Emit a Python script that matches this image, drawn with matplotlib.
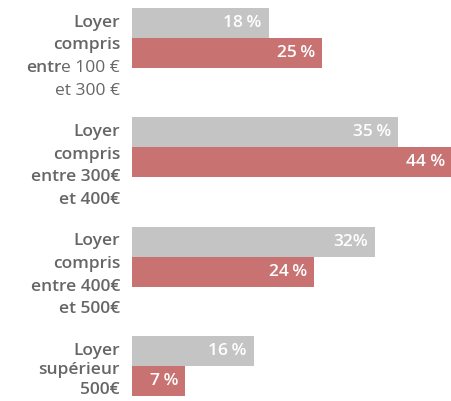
import matplotlib.pyplot as plt
from matplotlib.transforms import blended_transform_factory
import numpy as np

# data
label_lines = [
    ["Loyer", "compris", "entre 100 €", "et 300 €"],
    ["Loyer", "compris", "entre 300€", "et 400€"],
    ["Loyer", "compris", "entre 400€", "et 500€"],
    ["Loyer", "supérieur", "500€"],
]
grey_values = [18, 35, 32, 16]
red_values = [25, 44, 24, 7]
grey_labels = ["18\u2009%", "35\u2009%", "32%", "16\u2009%"]
red_labels = ["25\u2009%", "44 %", "24\u2009%", "7\u2009%"]

grey_col = "#c4c4c4"
red_col = "#c87272"
txt_col = "#666666"
FONT = "Open Sans"
FS = 12.5

W, H = 452, 401
fig = plt.figure(figsize=(W / 100, H / 100), dpi=100)
ax = fig.add_axes([132 / W, 0, 1 - 132 / W, 1])

px_per_unit = 109.3  # vertical pixels per group
h = 30 / px_per_unit
y = np.arange(len(grey_values))
ax.barh(y - h / 2, grey_values, height=h, color=grey_col)
ax.barh(y + h / 2, red_values, height=h, color=red_col)

xmax = 320 / 7.6
ax.set_xlim(0, xmax)
ax.set_ylim(3 + h + 5 / px_per_unit, -h - 8 / px_per_unit)
ax.axis("off")

for i in range(len(y)):
    for v, lab, yy in ((grey_values[i], grey_labels[i], y[i] - h / 2),
                       (red_values[i], red_labels[i], y[i] + h / 2)):
        ax.annotate(lab, xy=(min(v, xmax), yy), xytext=(-7, 0),
                    textcoords="offset pixels", ha="right", va="center",
                    color="white", fontsize=FS, fontweight="semibold",
                    family=FONT)

# category labels, one text per line
tr = blended_transform_factory(fig.transFigure, ax.transData)
x_lab = 120 / W
fig.canvas.draw()
renderer = fig.canvas.get_renderer()
for i, lines in enumerate(label_lines):
    top = y[i] - h + 18.7 / px_per_unit
    step = 22.7 if len(lines) == 4 else 19.5
    for k, line in enumerate(lines):
        yy = top + k * step / px_per_unit
        if i == 0 and k == 2:
            # mixed weight line: "entr" bold, rest regular
            t = fig.text(x_lab, yy, line[4:], transform=tr, ha="right",
                         va="baseline", color=txt_col, fontsize=FS,
                         family=FONT)
            bb = t.get_window_extent(renderer)
            fig.text(bb.x0 / W, yy, line[:4], transform=tr, ha="right",
                     va="baseline", color=txt_col, fontsize=FS,
                     fontweight="semibold", family=FONT)
        else:
            weight = "normal" if (i == 0 and k == 3) else "semibold"
            fig.text(x_lab, yy, line, transform=tr, ha="right",
                     va="baseline", color=txt_col, fontsize=FS,
                     fontweight=weight, family=FONT)

plt.savefig("out.png", dpi=100)
